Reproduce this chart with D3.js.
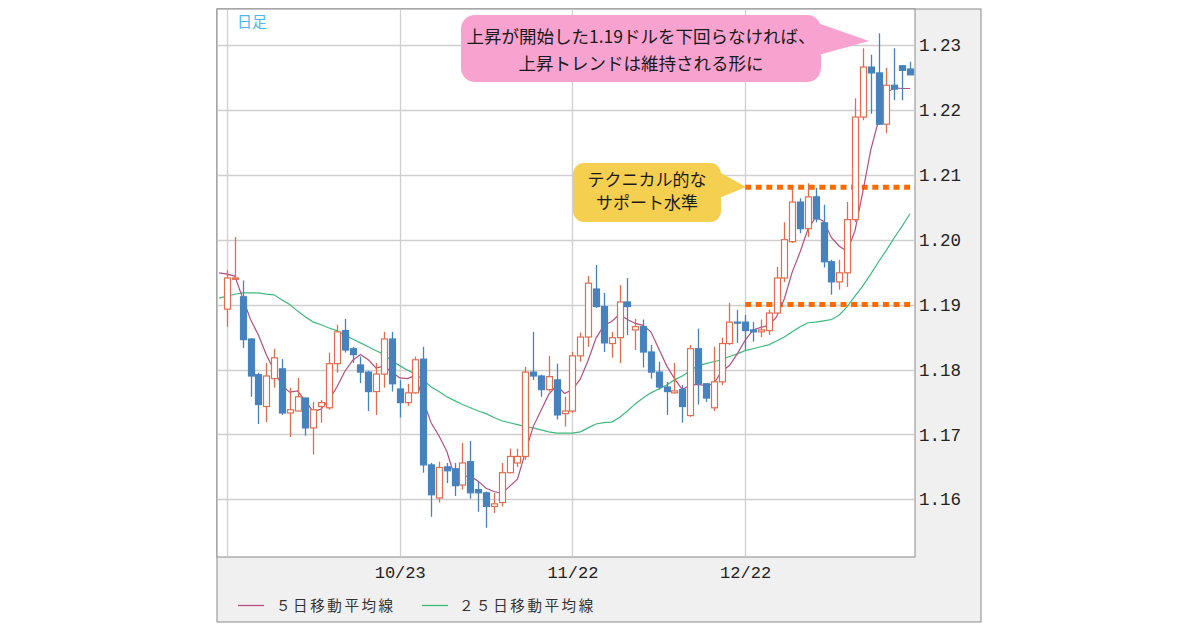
<!DOCTYPE html>
<html>
<head>
<meta charset="utf-8">
<script src="https://cdn.jsdelivr.net/npm/d3@7"></script>
<style>
  html, body { margin: 0; padding: 0; background: #ffffff; }
  svg { display: block; }
</style>
</head>
<body>
<svg id="chart" width="1200" height="630"></svg>
<script>
// ---------------- DATA ----------------
// Daily candles (index 0..87), EUR/USD style prices
const open  = [1.1893,1.1939,1.1912,1.1847,1.1792,1.1743,1.1786,1.1801,1.1733,1.1736,
               1.1756,1.1710,1.1743,1.1741,1.1809,1.1860,1.1832,1.1807,1.1796,1.1766,
               1.1793,1.1847,1.1770,1.1749,1.1764,1.1816,1.1653,1.1602,1.1650,1.1647,
               1.1622,1.1658,1.1615,1.1610,1.1589,1.1595,1.1641,1.1656,1.1666,1.1796,
               1.1790,1.1769,1.1784,1.1732,1.1736,1.1821,1.1850,1.1924,1.1897,1.1840,
               1.1849,1.1904,1.1861,1.1866,1.1827,1.1796,1.1773,1.1764,1.1769,1.1729,
               1.1832,1.1778,1.1741,1.1781,1.1840,1.1873,1.1873,1.1861,1.1858,1.1860,
               1.1887,1.1941,1.1997,1.2058,1.2017,1.2066,1.2026,1.1966,1.1935,1.1949,
               1.2031,1.2189,1.2266,1.2257,1.2178,1.2238,1.2268,1.2263];
const high  = [1.1953,1.2004,1.1937,1.1848,1.1795,1.1810,1.1832,1.1816,1.1772,1.1787,
               1.1757,1.1750,1.1753,1.1826,1.1869,1.1878,1.1835,1.1820,1.1798,1.1810,
               1.1858,1.1858,1.1784,1.1778,1.1820,1.1835,1.1656,1.1658,1.1656,1.1656,
               1.1687,1.1690,1.1627,1.1612,1.1610,1.1656,1.1678,1.1678,1.1804,1.1858,
               1.1792,1.1821,1.1809,1.1758,1.1827,1.1857,1.1944,1.1961,1.1918,1.1858,
               1.1930,1.1941,1.1878,1.1877,1.1838,1.1812,1.1781,1.1810,1.1776,1.1838,
               1.1863,1.1779,1.1835,1.1849,1.1903,1.1892,1.1884,1.1873,1.1877,1.1892,
               1.1958,1.2027,1.2081,1.2064,1.2087,1.2080,1.2054,1.1969,1.1969,1.2058,
               1.2218,1.2295,1.2285,1.2318,1.2265,1.2295,1.2268,1.2274];
const low   = [1.1866,1.1938,1.1833,1.1758,1.1716,1.1719,1.1772,1.1730,1.1696,1.1735,
               1.1698,1.1669,1.1718,1.1738,1.1795,1.1826,1.1810,1.1779,1.1736,1.1730,
               1.1772,1.1766,1.1726,1.1744,1.1763,1.1641,1.1573,1.1595,1.1625,1.1605,
               1.1615,1.1601,1.1581,1.1556,1.1579,1.1589,1.1640,1.1650,1.1661,1.1784,
               1.1758,1.1766,1.1723,1.1712,1.1733,1.1812,1.1835,1.1895,1.1827,1.1818,
               1.1810,1.1853,1.1830,1.1803,1.1786,1.1769,1.1730,1.1763,1.1718,1.1727,
               1.1746,1.1750,1.1736,1.1776,1.1838,1.1841,1.1830,1.1843,1.1850,1.1853,
               1.1884,1.1935,1.1995,1.2010,1.2004,1.2027,1.1957,1.1915,1.1923,1.1927,
               1.2027,1.2184,1.2194,1.2177,1.2164,1.2215,1.2215,1.2254];
const close = [1.1941,1.1941,1.1846,1.1790,1.1746,1.1790,1.1818,1.1733,1.1738,1.1758,
               1.1710,1.1738,1.1749,1.1809,1.1858,1.1830,1.1823,1.1796,1.1766,1.1793,
               1.1847,1.1778,1.1749,1.1764,1.1815,1.1653,1.1607,1.1649,1.1644,1.1621,
               1.1656,1.1610,1.1610,1.1589,1.1593,1.1641,1.1666,1.1666,1.1796,1.1790,
               1.1769,1.1789,1.1730,1.1736,1.1821,1.1850,1.1933,1.1897,1.1841,1.1849,
               1.1904,1.1897,1.1866,1.1827,1.1796,1.1773,1.1766,1.1767,1.1743,1.1832,
               1.1778,1.1756,1.1781,1.1840,1.1873,1.1872,1.1860,1.1858,1.1861,1.1887,
               1.1941,1.2000,1.2058,1.2017,1.2066,1.2032,1.1966,1.1935,1.1949,1.2031,
               1.2189,1.2266,1.2257,1.2178,1.2238,1.2232,1.2261,1.2254];

// Moving averages, starting one day before the first candle (index -1)
const maStartIndex = -1;
const ma5  = [1.1949,1.1947,1.1944,1.1910,1.1877,1.1853,1.1823,1.1798,1.1775,1.1765,
              1.1767,1.1751,1.1735,1.1739,1.1753,1.1773,1.1797,1.1814,1.1823,1.1815,
              1.1802,1.1805,1.1796,1.1787,1.1786,1.1791,1.1752,1.1718,1.1698,1.1674,
              1.1635,1.1635,1.1636,1.1628,1.1617,1.1612,1.1609,1.1620,1.1631,1.1672,
              1.1712,1.1737,1.1762,1.1775,1.1763,1.1769,1.1785,1.1814,1.1848,1.1868,
              1.1874,1.1885,1.1877,1.1871,1.1868,1.1858,1.1832,1.1806,1.1786,1.1769,
              1.1776,1.1777,1.1775,1.1778,1.1797,1.1806,1.1824,1.1845,1.1861,1.1865,
              1.1868,1.1881,1.1909,1.1950,1.1981,1.2016,1.2035,1.2028,1.2003,1.1990,
              1.1982,1.2014,1.2074,1.2138,1.2184,1.2226,1.2234,1.2233,1.2233];
const ma25 = [1.1910,1.1913,1.1916,1.1918,1.1918,1.1918,1.1916,1.1915,1.1907,1.1900,
              1.1890,1.1881,1.1873,1.1869,1.1864,1.1860,1.1853,1.1847,1.1841,1.1835,
              1.1829,1.1823,1.1813,1.1806,1.1799,1.1793,1.1784,1.1773,1.1766,1.1758,
              1.1752,1.1746,1.1741,1.1736,1.1732,1.1726,1.1721,1.1718,1.1715,1.1712,
              1.1710,1.1707,1.1704,1.1702,1.1702,1.1702,1.1704,1.1710,1.1716,1.1718,
              1.1719,1.1726,1.1736,1.1747,1.1756,1.1764,1.1770,1.1776,1.1784,1.1790,
              1.1798,1.1806,1.1809,1.1812,1.1815,1.1820,1.1824,1.1829,1.1832,1.1835,
              1.1838,1.1844,1.1850,1.1858,1.1866,1.1872,1.1873,1.1875,1.1877,1.1884,
              1.1897,1.1913,1.1929,1.1947,1.1966,1.1984,1.2003,1.2021,1.2040];

const xTickIndex  = [0, 22, 44, 66];
const xTickLabels = ["", "10/23", "11/22", "12/22"];
const yTicks      = [1.16, 1.17, 1.18, 1.19, 1.20, 1.21, 1.22, 1.23];

const supportLevels  = [1.2081, 1.19];
const supportFromIdx = 66;

const periodLabel   = "日足";
const legendLabels  = ["５日移動平均線", "２５日移動平均線"];
const calloutPink   = ["上昇が開始した1.19ドルを下回らなければ、", "上昇トレンドは維持される形に"];
const calloutYellow = ["テクニカル的な", "サポート水準"];

// ---------------- LAYOUT ----------------
const frame = {x: 217, y: 9, w: 764, h: 613};
const plot  = {x0: 217, x1: 915, y0: 9, y1: 557};
const colors = {
  up: "#df6e4e", down: "#4682be", ma5: "#b44f80", ma25: "#3dba7c",
  grid: "#cfcfcf", border: "#8a8a8a", level: "#ff6a00",
  pink: "#f8a2cf", yellow: "#f5cf4f", period: "#4cb9ea"
};
const monoFont = "'Liberation Mono', 'DejaVu Sans Mono', monospace";
const jpFont = "'Noto Sans CJK JP', 'Noto Sans', sans-serif";

const svg = d3.select("#chart");

const x = d3.scaleLinear().domain([-1.27, 87.64]).range([plot.x0, plot.x1]);
const y = d3.scaleLinear().domain([1.16, 1.23]).range([499.3, 45]);

// frame
svg.append("rect").attr("x", frame.x).attr("y", frame.y).attr("width", frame.w).attr("height", frame.h)
  .attr("fill", "#f0f0f0").attr("stroke", colors.border).attr("stroke-width", 1);
svg.append("rect").attr("x", plot.x0).attr("y", plot.y0).attr("width", plot.x1 - plot.x0).attr("height", plot.y1 - plot.y0)
  .attr("fill", "#ffffff").attr("stroke", colors.border).attr("stroke-width", 1);

svg.append("clipPath").attr("id", "clip").append("rect")
  .attr("x", plot.x0 + 0.5).attr("y", plot.y0 + 0.5)
  .attr("width", plot.x1 - plot.x0 - 1).attr("height", plot.y1 - plot.y0 - 1);

const g = svg.append("g").attr("clip-path", "url(#clip)");

// gridlines
g.selectAll(".hgrid").data(yTicks).enter().append("line")
  .attr("x1", plot.x0).attr("x2", plot.x1)
  .attr("y1", d => Math.round(y(d)) + 0.5).attr("y2", d => Math.round(y(d)) + 0.5)
  .attr("stroke", colors.grid).attr("stroke-width", 1.3);
g.selectAll(".vgrid").data(xTickIndex).enter().append("line")
  .attr("x1", d => Math.round(x(d)) + 0.5).attr("x2", d => Math.round(x(d)) + 0.5)
  .attr("y1", plot.y0).attr("y2", plot.y1)
  .attr("stroke", colors.grid).attr("stroke-width", 1.3);

// support levels (dotted)
g.selectAll(".level").data(supportLevels).enter().append("line")
  .attr("x1", x(supportFromIdx)).attr("x2", plot.x1)
  .attr("y1", d => y(d)).attr("y2", d => y(d))
  .attr("stroke", colors.level).attr("stroke-width", 5)
  .attr("stroke-dasharray", "6,4.6");

// moving averages
const maLine = d3.line().x((d, i) => x(i + maStartIndex)).y(d => y(d));
g.append("path").datum(ma25).attr("d", maLine).attr("fill", "none")
  .attr("stroke", colors.ma25).attr("stroke-width", 1.2);
g.append("path").datum(ma5).attr("d", maLine).attr("fill", "none")
  .attr("stroke", colors.ma5).attr("stroke-width", 1.2);

// candles
const candles = close.map((c, i) => ({i, o: open[i], h: high[i], l: low[i], c}));
const bw = 6;
const cg = g.selectAll(".candle").data(candles).enter().append("g");
cg.append("line")
  .attr("x1", d => Math.round(x(d.i)) + 0.5).attr("x2", d => Math.round(x(d.i)) + 0.5)
  .attr("y1", d => y(d.h)).attr("y2", d => y(d.l))
  .attr("stroke", d => d.c >= d.o ? colors.up : colors.down).attr("stroke-width", 1.3);
cg.append("rect")
  .attr("x", d => Math.round(x(d.i)) + 0.5 - bw / 2)
  .attr("y", d => y(Math.max(d.o, d.c)))
  .attr("width", bw)
  .attr("height", d => Math.max(1, Math.abs(y(d.o) - y(d.c))))
  .attr("fill", d => d.c >= d.o ? "#ffffff" : colors.down)
  .attr("stroke", d => d.c >= d.o ? colors.up : colors.down)
  .attr("stroke-width", 1.2);

// axes
const yAxis = d3.axisRight(y).tickValues(yTicks).tickSize(0).tickPadding(4).tickFormat(d3.format(".2f"));
const ya = svg.append("g").attr("transform", `translate(${plot.x1},0)`).call(yAxis);
ya.select(".domain").remove();
ya.selectAll("text").attr("font-family", monoFont).attr("font-size", 17.5).attr("fill", "#222");

const xAxis = d3.axisBottom(x).tickValues(xTickIndex).tickSize(0).tickPadding(9)
  .tickFormat((d, i) => xTickLabels[i]);
const xa = svg.append("g").attr("transform", `translate(0,${plot.y1})`).call(xAxis);
xa.select(".domain").remove();
xa.selectAll("text").attr("font-family", monoFont).attr("font-size", 17).attr("fill", "#222");

// period label
svg.append("text").attr("x", 237).attr("y", 27).text(periodLabel)
  .attr("font-family", jpFont).attr("font-size", 15).attr("fill", colors.period);

// legend
const legendPos = [{lx: 238, tx: 276, color: colors.ma5}, {lx: 422, tx: 459, color: colors.ma25}];
legendLabels.forEach((t, i) => {
  const p = legendPos[i];
  svg.append("line").attr("x1", p.lx).attr("x2", p.lx + 26).attr("y1", 605.5).attr("y2", 605.5)
    .attr("stroke", p.color).attr("stroke-width", 1.3);
  svg.append("text").attr("x", p.tx).attr("y", 611).text(t)
    .attr("font-family", jpFont).attr("font-size", 14.5).attr("letter-spacing", 2.6).attr("fill", "#333");
});

// callouts
function callout(box, tri, fill, lines, lineY, fs) {
  svg.append("path").attr("d", d3.line()(tri) + "Z").attr("fill", fill);
  svg.append("rect").attr("x", box.x).attr("y", box.y).attr("width", box.w).attr("height", box.h)
    .attr("rx", box.r).attr("fill", fill);
  lines.forEach((t, i) => {
    svg.append("text").attr("x", box.x + box.w / 2).attr("y", lineY[i]).attr("text-anchor", "middle")
      .attr("font-family", jpFont).attr("font-size", fs).attr("fill", "#1a1a1a").text(t);
  });
}
callout({x: 461, y: 15, w: 360, h: 67, r: 14}, [[806, 19], [869, 41], [815, 56]],
        colors.pink, calloutPink, [43, 70], 17.5);
callout({x: 573, y: 163, w: 148, h: 59, r: 11}, [[712, 168], [746, 187], [712, 201]],
        colors.yellow, calloutYellow, [186, 209], 17);
</script>
</body>
</html>
